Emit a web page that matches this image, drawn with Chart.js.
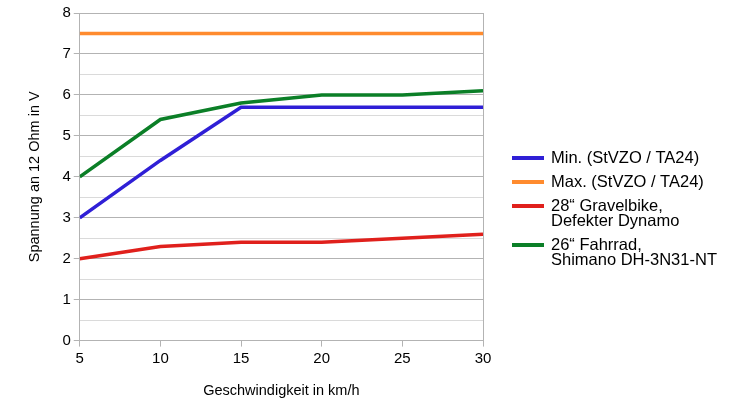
<!DOCTYPE html>
<html><head><meta charset="utf-8">
<script src="https://cdn.jsdelivr.net/npm/chart.js@4/dist/chart.umd.min.js"></script>
<style>html,body{margin:0;padding:0;background:#fff}#wrap{width:730px;height:418px}</style>
</head><body><div id="wrap"><canvas id="c" width="730" height="418"></canvas></div>
<script>
const speeds = [5, 10, 15, 20, 25, 30];
const minStvzo = [3, 4.4, 5.7, 5.7, 5.7, 5.7];
const maxStvzo = [7.5, 7.5, 7.5, 7.5, 7.5, 7.5];
const gravel = [2, 2.3, 2.4, 2.4, 2.5, 2.6];
const fahrrad = [4, 5.4, 5.8, 6, 6, 6.1];
const seriesLabels = [
  ["Min. (StVZO / TA24)"],
  ["Max. (StVZO / TA24)"],
  ["28\u201C Gravelbike,", "Defekter Dynamo"],
  ["26\u201C Fahrrad,", "Shimano DH-3N31-NT"]
];
const seriesColors = ["#2f1fd6", "#ff8b2e", "#e0201c", "#0b7f27"];
const yTitle = "Spannung an 12 Ohm in V";
const xTitle = "Geschwindigkeit in km/h";

const allValues = [minStvzo, maxStvzo, gravel, fahrrad];
const datasets = allValues.map((vals, i) => ({
  label: seriesLabels[i].join(" "),
  data: speeds.map((s, j) => ({x: s, y: vals[j]})),
  borderColor: seriesColors[i],
  backgroundColor: seriesColors[i],
  borderWidth: 3.5,
  pointRadius: 0,
  tension: 0,
  fill: false
}));

const FONT = "'Liberation Sans', Arial, sans-serif";

const legendPlugin = {
  id: 'customLegend',
  afterDraw(chart) {
    const ctx = chart.ctx;
    ctx.save();
    ctx.font = "16.5px " + FONT;
    ctx.textBaseline = "middle";
    ctx.fillStyle = "#000";
    let y = 158;
    const lineH = 15;
    seriesLabels.forEach((lines, i) => {
      ctx.strokeStyle = seriesColors[i];
      ctx.lineWidth = 4;
      ctx.beginPath();
      ctx.moveTo(512, y);
      ctx.lineTo(544, y);
      ctx.stroke();
      lines.forEach((t, k) => ctx.fillText(t, 551, y + k * lineH));
      y += 24 + (lines.length - 1) * lineH;
    });
    ctx.restore();
  }
};

new Chart(document.getElementById('c'), {
  type: 'line',
  data: { datasets },
  options: {
    responsive: false,
    animation: false,
    devicePixelRatio: 1,
    layout: { padding: { left: 22, right: 247, top: 13, bottom: 14 } },
    plugins: { legend: { display: false }, tooltip: { enabled: false } },
    scales: {
      x: {
        type: 'linear',
        min: 5, max: 30,
        ticks: { stepSize: 5, color: '#000', font: { size: 15, family: FONT }, padding: 3 },
        grid: {
          color: c => (c.index === 0 || c.tick && c.tick.value === 30) ? '#b3b3b3' : 'rgba(0,0,0,0)',
          tickColor: '#b3b3b3',
          tickLength: 6,
          lineWidth: 1
        },
        border: { color: '#b3b3b3' },
        title: { display: true, text: xTitle, color: '#000', font: { size: 14.5, family: FONT }, padding: { top: 12 } }
      },
      y: {
        min: 0, max: 8,
        ticks: {
          stepSize: 0.5,
          autoSkip: false,
          color: '#000',
          font: { size: 15, family: FONT },
          padding: 3,
          callback: v => Number.isInteger(v) ? String(v) : ''
        },
        grid: {
          color: c => (c.tick && Number.isInteger(c.tick.value)) ? '#b3b3b3' : '#dadada',
          tickColor: c => (c.tick && Number.isInteger(c.tick.value)) ? '#b3b3b3' : 'rgba(0,0,0,0)',
          tickLength: 6,
          lineWidth: 1
        },
        border: { color: '#b3b3b3' },
        title: { display: true, text: yTitle, color: '#000', font: { size: 14.5, family: FONT }, padding: { bottom: 16 } }
      }
    }
  },
  plugins: [legendPlugin]
});
</script>
</body></html>
